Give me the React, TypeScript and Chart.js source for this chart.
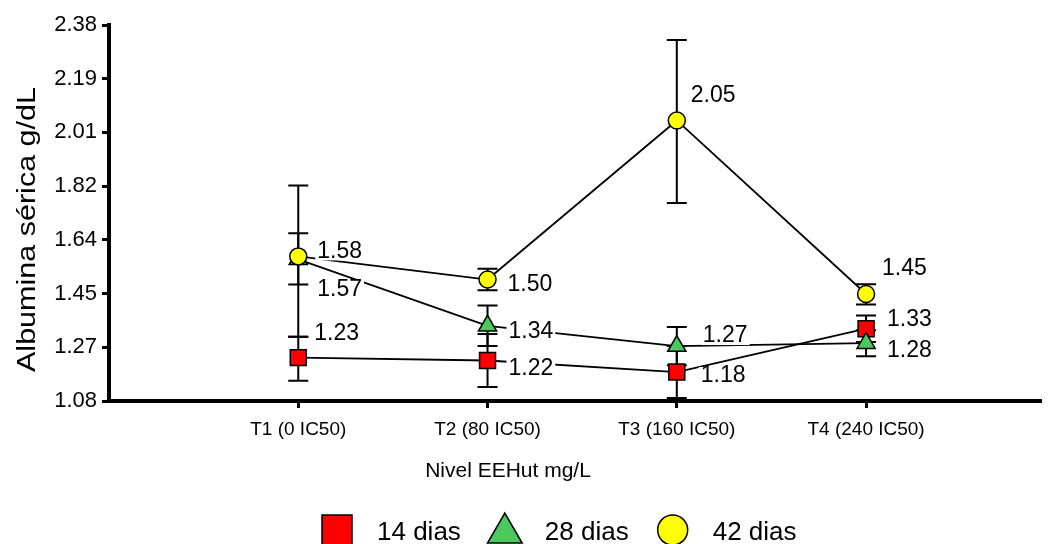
import React, { useEffect, useRef } from 'react';
import { Chart, registerables } from 'chart.js';

Chart.register(...registerables);

// ---------- data ----------
const categories = ['T1 (0 IC50)', 'T2 (80 IC50)', 'T3 (160 IC50)', 'T4 (240 IC50)'];
const seriesNames = ['14 dias', '28 dias', '42 dias'];
const dias14 = [1.23, 1.22, 1.18, 1.33];
const dias28 = [1.57, 1.34, 1.27, 1.28];
const dias42 = [1.58, 1.5, 2.05, 1.45];
const errUp14 = [0.072, 0.092, 0.09, 0.046];
const errDown14 = [0.08, 0.092, 0.09, 0.046];
const errUp28 = [0.09, 0.07, 0.066, 0.045];
const errDown28 = [0.087, 0.07, 0.066, 0.045];
const errUp42 = [0.245, 0.037, 0.278, 0.034];
const errDown42 = [0.278, 0.037, 0.285, 0.036];
const yTickLabels = ['1.08', '1.27', '1.45', '1.64', '1.82', '2.01', '2.19', '2.38'];
const xTitle = 'Nivel EEHut mg/L';
const yTitle = 'Albumina sérica g/dL';

// ---------- layout / style ----------
const W = 1053;
const H = 544;
const FONT = '"Liberation Sans", Arial, sans-serif';
const yMin = parseFloat(yTickLabels[0]);
const yMax = parseFloat(yTickLabels[yTickLabels.length - 1]);
const xMax = 4.92;

const seriesStyles = [
  { color: '#FF0000', pointStyle: 'rect', radius: 11.3, order: 3 },
  { color: '#4CC95C', pointStyle: 'triangle', radius: 10.5, order: 2 },
  { color: '#FFFF00', pointStyle: 'circle', radius: 8.5, order: 1 },
];

// label offset (text left, text middle) relative to each point, in px
const labelOffsets = [
  [[16, -24], [21, 8], [24, 4], [21, -9]],
  [[19, 30], [21, 6], [26, -10], [21, 8]],
  [[19, -5], [20, 5], [14, -25], [16, -25]],
];

const seriesValues = [dias14, dias28, dias42];
const seriesErrors = [
  { up: errUp14, down: errDown14 },
  { up: errUp28, down: errDown28 },
  { up: errUp42, down: errDown42 },
];

const errorBarPlugin = {
  id: 'errorBars',
  beforeDatasetsDraw(chart: any) {
    const { ctx } = chart;
    const x = chart.scales.x;
    const y = chart.scales.y;
    ctx.save();
    ctx.strokeStyle = '#000';
    ctx.lineWidth = 2;
    chart.data.datasets.forEach((ds: any, i: number) => {
      const err = seriesErrors[i];
      ds.data.forEach((p: any, j: number) => {
        const px = x.getPixelForValue(p.x);
        const yt = y.getPixelForValue(p.y + err.up[j]);
        const yb = y.getPixelForValue(p.y - err.down[j]);
        ctx.beginPath();
        ctx.moveTo(px, yt);
        ctx.lineTo(px, yb);
        ctx.moveTo(px - 10, yt);
        ctx.lineTo(px + 10, yt);
        ctx.moveTo(px - 10, yb);
        ctx.lineTo(px + 10, yb);
        ctx.stroke();
      });
    });
    ctx.restore();
  },
};

const dataLabelPlugin = {
  id: 'dataLabels',
  afterDatasetsDraw(chart: any) {
    const { ctx } = chart;
    ctx.save();
    ctx.font = `23px ${FONT}`;
    ctx.textAlign = 'left';
    ctx.textBaseline = 'middle';
    chart.data.datasets.forEach((ds: any, i: number) => {
      const meta = chart.getDatasetMeta(i);
      meta.data.forEach((pt: any, j: number) => {
        const txt = ds.data[j].y.toFixed(2);
        const [dx, dy] = labelOffsets[i][j];
        const tx = pt.x + dx;
        const ty = pt.y + dy;
        const w = ctx.measureText(txt).width;
        ctx.fillStyle = '#fff';
        ctx.fillRect(tx - 2, ty - 9, w + 4, 18);
        ctx.fillStyle = '#000';
        ctx.fillText(txt, tx, ty);
      });
    });
    ctx.restore();
  },
};

const titlesLegendPlugin = {
  id: 'titlesLegend',
  afterDraw(chart: any) {
    const { ctx } = chart;
    ctx.save();
    ctx.fillStyle = '#000';
    // y title (stretched along its length to the reference's span)
    ctx.save();
    ctx.font = `26px ${FONT}`;
    const tw = ctx.measureText(yTitle).width;
    ctx.translate(28, 229.5);
    ctx.rotate(-Math.PI / 2);
    ctx.scale(285 / tw, 1);
    ctx.textAlign = 'center';
    ctx.textBaseline = 'middle';
    ctx.fillText(yTitle, 0, 0);
    ctx.restore();
    // x title
    ctx.font = `21px ${FONT}`;
    ctx.textAlign = 'center';
    ctx.textBaseline = 'alphabetic';
    ctx.fillText(xTitle, 508, 477);
    // legend
    ctx.font = `26px ${FONT}`;
    ctx.textAlign = 'left';
    let lx = 322;
    const cy = 530;
    seriesNames.forEach((name, i) => {
      const st = seriesStyles[i];
      ctx.fillStyle = st.color;
      ctx.strokeStyle = '#000';
      ctx.lineWidth = 1.5;
      const cx = lx + 15;
      ctx.beginPath();
      if (st.pointStyle === 'rect') {
        ctx.rect(cx - 15, cy - 15, 30, 30);
      } else if (st.pointStyle === 'triangle') {
        const r = 20;
        const c = cy + 3;
        ctx.moveTo(cx, c - r);
        ctx.lineTo(cx + (r * Math.sqrt(3)) / 2, c + r / 2);
        ctx.lineTo(cx - (r * Math.sqrt(3)) / 2, c + r / 2);
        ctx.closePath();
      } else {
        ctx.arc(cx, cy, 15, 0, Math.PI * 2);
      }
      ctx.fill();
      ctx.stroke();
      ctx.fillStyle = '#000';
      const tx = lx + 30 + 25;
      ctx.fillText(name, tx, 540);
      lx = tx + ctx.measureText(name).width + 29;
    });
    ctx.restore();
  },
};

const axisGrid = {
  drawOnChartArea: false,
  drawTicks: true,
  tickLength: 7,
  tickWidth: 3,
  tickColor: '#000',
  color: '#000',
  lineWidth: 3,
};
const axisBorder = { display: true, color: '#000', width: 4 };

export default function App() {
  const ref = useRef<HTMLCanvasElement>(null);
  useEffect(() => {
    const datasets = seriesValues.map((vals, i) => ({
      label: seriesNames[i],
      data: vals.map((v, j) => ({ x: j + 1, y: v })),
      borderColor: '#000',
      borderWidth: 1.8,
      backgroundColor: seriesStyles[i].color,
      pointBackgroundColor: seriesStyles[i].color,
      pointBorderColor: '#000',
      pointBorderWidth: 1.5,
      pointStyle: seriesStyles[i].pointStyle,
      pointRadius: seriesStyles[i].radius,
      tension: 0,
      fill: false,
      order: seriesStyles[i].order,
      clip: false,
    }));
    const chart = new Chart(ref.current as HTMLCanvasElement, {
      type: 'line',
      data: { datasets } as any,
      options: {
        responsive: false,
        animation: false,
        devicePixelRatio: 1,
        layout: { padding: { top: 25, right: 9, left: 0, bottom: 0 } },
        plugins: { legend: { display: false }, tooltip: { enabled: false } },
        scales: {
          x: {
            type: 'linear',
            min: 0,
            max: xMax,
            afterFit: (s: any) => { s.height = H - 401; },
            afterBuildTicks: (s: any) => { s.ticks = categories.map((_, i) => ({ value: i + 1 })); },
            ticks: {
              callback: (_v: any, i: number) => categories[i],
              font: { family: FONT, size: 19 },
              color: '#000',
              padding: 10,
              autoSkip: false,
              maxRotation: 0,
            },
            grid: axisGrid,
            border: axisBorder,
          },
          y: {
            type: 'linear',
            min: yMin,
            max: yMax,
            afterFit: (s: any) => { s.width = 109; },
            afterBuildTicks: (s: any) => {
              s.ticks = yTickLabels.map((_, i) => ({ value: yMin + (i * (yMax - yMin)) / (yTickLabels.length - 1) }));
            },
            ticks: {
              callback: (_v: any, i: number) => yTickLabels[i],
              font: { family: FONT, size: 22 },
              color: '#000',
              padding: 5,
              autoSkip: false,
            },
            grid: axisGrid,
            border: axisBorder,
          },
        },
      } as any,
      plugins: [errorBarPlugin, dataLabelPlugin, titlesLegendPlugin],
    });
    return () => chart.destroy();
  }, []);
  return (
    <div style={{ position: 'fixed', left: 0, top: 0, width: W, height: H, background: '#fff' }}>
      <canvas ref={ref} width={W} height={H} style={{ display: 'block', width: W, height: H }} />
    </div>
  );
}
